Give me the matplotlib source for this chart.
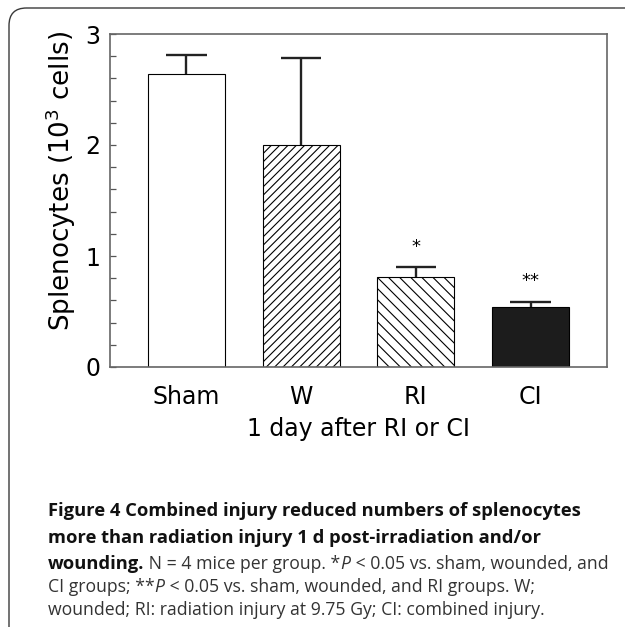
import numpy as np
import matplotlib
matplotlib.use("Agg")
import matplotlib.pyplot as plt
from matplotlib.patches import FancyBboxPatch

# data
groups = ["Sham", "W", "RI", "CI"]
means = [2.64, 2.00, 0.81, 0.54]
sems = [0.17, 0.78, 0.09, 0.05]
stars = ["", "", "*", "**"]
fills = ["white", "white", "white", "#1c1c1c"]
hatches = ["", "////", "\\\\\\", ""]

W, H = 625, 627
plt.rcParams["hatch.linewidth"] = 0.8
fig = plt.figure(figsize=(W / 100, H / 100), dpi=100)

# rounded frame, running off the right and bottom edge
frame = FancyBboxPatch((9 / W, -0.05), 1.2, 1 - 8 / H + 0.05,
                       boxstyle="round,pad=0,rounding_size=0.028",
                       transform=fig.transFigure, fill=False,
                       ec="#3a3a3a", lw=1.0)
fig.patches.append(frame)

ax = fig.add_axes([110 / W, 1 - 367 / H, 497 / W, 333 / H])
x = np.arange(len(groups))
ax.bar(x, means, width=0.67, color=fills, edgecolor="black",
       hatch=hatches, linewidth=0.8, zorder=2)

# upper error bars only
top = np.array(means) + np.array(sems)
ax.vlines(x, means, top, color="#222222", lw=1.7, zorder=3)
ax.hlines(top, x - 0.175, x + 0.175, color="#222222", lw=1.7, zorder=3)
for xi, t, s in zip(x, top, stars):
    if s:
        ax.annotate(s, (xi, t), xytext=(0, 8), textcoords="offset points",
                    ha="center", va="bottom", fontsize=13)

ax.set_xlim(-0.667, 3.667)
ax.set_ylim(0, 3)
ax.set_xticks(x)
ax.set_xticklabels(groups, fontsize=17)
ax.tick_params(axis="x", length=0, pad=13)
ax.set_yticks([0, 1, 2, 3])
ax.set_yticks(np.arange(0, 3.01, 0.2), minor=True)
ax.tick_params(axis="y", which="both", direction="in", length=4,
               width=0.9, color="#555555", labelsize=17, pad=7)
for sp in ax.spines.values():
    sp.set_color("#666666")
    sp.set_linewidth(1.2)
ax.set_xlabel("1 day after RI or CI", fontsize=17, labelpad=6)
ax.set_ylabel(r"Splenocytes (10$^3$ cells)", fontsize=18.8)
ax.yaxis.set_label_coords(-0.064, 0.56)

# caption, built piece by piece (mixed bold / italic / regular)
fam = ["Open Sans", "DejaVu Sans"]
bold = dict(family=fam, weight="bold", size=13.2, color="#111111")
reg = dict(family=fam, size=12.7, color="#333333")
ital = dict(family=fam, size=12.7, style="italic", color="#333333")
caption = [
    (516, [("Figure 4 Combined injury reduced numbers of splenocytes", bold)]),
    (543, [("more than radiation injury 1 d post-irradiation and/or", bold)]),
    (569, [("wounding.", bold), (" N = 4 mice per group. *", reg), ("P", ital),
           (" < 0.05 vs. sham, wounded, and", reg)]),
    (592, [("CI groups; **", reg), ("P", ital),
           (" < 0.05 vs. sham, wounded, and RI groups. W;", reg)]),
    (615, [("wounded; RI: radiation injury at 9.75 Gy; CI: combined injury.", reg)]),
]
renderer = fig.canvas.get_renderer()
for y_px, pieces in caption:
    xpos = 48
    for txt, style in pieces:
        t = fig.text(xpos / W, 1 - y_px / H, txt, ha="left", va="baseline", **style)
        xpos = t.get_window_extent(renderer).x1

fig.savefig("out.png", dpi=100)
